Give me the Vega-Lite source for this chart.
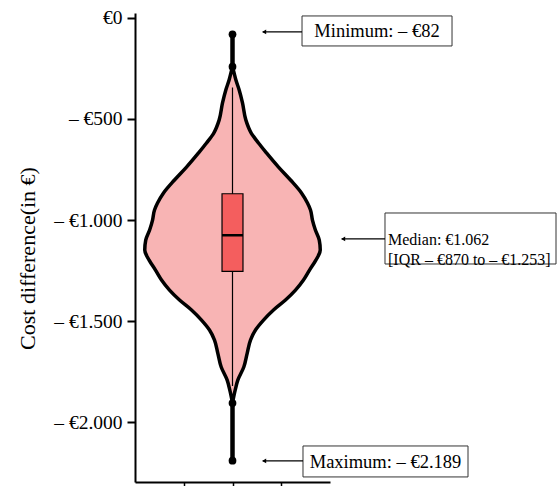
{
  "$schema": "https://vega.github.io/schema/vega-lite/v6.json",
  "autosize": {"type": "none"},
  "width": 195,
  "height": 469,
  "padding": {"left": 135, "top": 13, "right": 230, "bottom": 4},
  "config": {"view": {"stroke": null}, "font": "Liberation Serif", "axis": {"grid": false}},
  "datasets": {
    "violin": [
      {"v": -242, "lo": 0, "hi": 0},
      {"v": -275, "lo": -0.035, "hi": 0.035},
      {"v": -308, "lo": -0.07, "hi": 0.07},
      {"v": -357, "lo": -0.137, "hi": 0.137},
      {"v": -421, "lo": -0.205, "hi": 0.205},
      {"v": -505, "lo": -0.273, "hi": 0.273},
      {"v": -570, "lo": -0.384, "hi": 0.384},
      {"v": -619, "lo": -0.533, "hi": 0.533},
      {"v": -668, "lo": -0.697, "hi": 0.697},
      {"v": -738, "lo": -0.944, "hi": 0.944},
      {"v": -802, "lo": -1.19, "hi": 1.19},
      {"v": -866, "lo": -1.415, "hi": 1.415},
      {"v": -916, "lo": -1.538, "hi": 1.538},
      {"v": -950, "lo": -1.6, "hi": 1.6},
      {"v": -1000, "lo": -1.64, "hi": 1.64},
      {"v": -1049, "lo": -1.7, "hi": 1.7},
      {"v": -1099, "lo": -1.78, "hi": 1.78},
      {"v": -1148, "lo": -1.8, "hi": 1.8},
      {"v": -1198, "lo": -1.71, "hi": 1.71},
      {"v": -1247, "lo": -1.58, "hi": 1.58},
      {"v": -1296, "lo": -1.456, "hi": 1.456},
      {"v": -1346, "lo": -1.292, "hi": 1.292},
      {"v": -1395, "lo": -1.087, "hi": 1.087},
      {"v": -1444, "lo": -0.841, "hi": 0.841},
      {"v": -1494, "lo": -0.636, "hi": 0.636},
      {"v": -1543, "lo": -0.472, "hi": 0.472},
      {"v": -1593, "lo": -0.369, "hi": 0.369},
      {"v": -1657, "lo": -0.302, "hi": 0.302},
      {"v": -1726, "lo": -0.232, "hi": 0.232},
      {"v": -1791, "lo": -0.109, "hi": 0.109},
      {"v": -1840, "lo": -0.055, "hi": 0.055},
      {"v": -1904, "lo": 0, "hi": 0}
    ],
    "tails": [
      {"a": -82, "b": -242},
      {"a": -1904, "b": -2189}
    ],
    "dots": [
      {"v": -82},
      {"v": -242},
      {"v": -1904},
      {"v": -2189}
    ],
    "stats": [
      {"q1": -870, "q3": -1253, "med": -1075, "wtop": -345, "wbot": -1820}
    ]
  },
  "layer": [
    {
      "data": {"name": "violin"},
      "mark": {"type": "area", "orient": "horizontal", "interpolate": "monotone", "fill": "#F8B4B4", "stroke": "black", "strokeWidth": 3.5, "strokeJoin": "round"},
      "encoding": {
        "y": {
          "field": "v", "type": "quantitative",
          "scale": {"domain": [-2294, 23], "nice": false, "zero": false},
          "axis": {
            "title": "Cost difference(in €)",
            "values": [0, -500, -1000, -1500, -2000],
            "labelExpr": "datum.value == 0 ? '€0' : '– €' + replace(format(-datum.value, ','), ',', '.')",
            "labelFontSize": 19.5, "labelColor": "black", "labelPadding": 5, "labelFont": "Liberation Serif",
            "tickSize": 8, "tickWidth": 2, "tickColor": "black",
            "domainColor": "black", "domainWidth": 2,
            "titleFontSize": 22, "titleFontWeight": "normal", "titleColor": "black", "titleFont": "Liberation Serif",
            "titleX": -108, "titleY": 245, "titleAngle": -90, "titleAlign": "center", "titleBaseline": "middle",
            "grid": false
          }
        },
        "x": {
          "field": "lo", "type": "quantitative",
          "scale": {"domain": [-2, 2], "nice": false, "zero": false},
          "axis": {"title": "", "values": [-1, 0, 1], "labels": false, "tickSize": 6, "tickWidth": 1.5, "tickColor": "black", "domainColor": "black", "domainWidth": 2, "grid": false}
        },
        "x2": {"field": "hi"}
      }
    },
    {
      "data": {"name": "tails"},
      "mark": {"type": "rule", "strokeWidth": 4.5, "color": "black"},
      "encoding": {
        "x": {"datum": 0, "type": "quantitative"},
        "y": {"field": "a", "type": "quantitative"},
        "y2": {"field": "b"}
      }
    },
    {
      "data": {"name": "stats"},
      "mark": {"type": "rule", "strokeWidth": 1.2, "color": "black"},
      "encoding": {
        "x": {"datum": 0, "type": "quantitative"},
        "y": {"field": "wtop", "type": "quantitative"},
        "y2": {"field": "wbot"}
      }
    },
    {
      "data": {"name": "stats"},
      "mark": {"type": "rect", "fill": "#F45E5E", "stroke": "black", "strokeWidth": 1.2},
      "encoding": {
        "x": {"datum": -0.215, "type": "quantitative"},
        "x2": {"datum": 0.215},
        "y": {"field": "q1", "type": "quantitative"},
        "y2": {"field": "q3"}
      }
    },
    {
      "data": {"name": "stats"},
      "mark": {"type": "rule", "strokeWidth": 2.5, "color": "black"},
      "encoding": {
        "x": {"datum": -0.215, "type": "quantitative"},
        "x2": {"datum": 0.215},
        "y": {"field": "med", "type": "quantitative"}
      }
    },
    {
      "data": {"name": "dots"},
      "mark": {"type": "circle", "size": 60, "color": "black", "opacity": 1},
      "encoding": {
        "x": {"datum": 0, "type": "quantitative"},
        "y": {"field": "v", "type": "quantitative"}
      }
    },
    {
      "data": {"values": [{}]},
      "mark": {"type": "rect", "fill": "white", "stroke": "#333333", "strokeWidth": 1},
      "encoding": {
        "x": {"datum": 1.426, "type": "quantitative"},
        "x2": {"datum": 4.503},
        "y": {"datum": 8.4, "type": "quantitative"},
        "y2": {"datum": -139.8}
      }
    },
    {
      "data": {"values": [{}]},
      "mark": {"type": "rule", "strokeWidth": 1.2, "color": "black"},
      "encoding": {
        "x": {"datum": 0.62, "type": "quantitative"},
        "x2": {"datum": 1.426},
        "y": {"datum": -70.6, "type": "quantitative"}
      }
    },
    {
      "data": {"values": [{}]},
      "mark": {"type": "point", "shape": "triangle-left", "size": 22, "filled": true, "color": "black", "opacity": 1},
      "encoding": {
        "x": {"datum": 0.65, "type": "quantitative"},
        "y": {"datum": -70.6, "type": "quantitative"}
      }
    },
    {
      "data": {"values": [{}]},
      "mark": {"type": "text", "font": "Liberation Serif", "fontSize": 18.5, "align": "center", "baseline": "middle", "color": "black"},
      "encoding": {
        "x": {"datum": 2.964, "type": "quantitative"},
        "y": {"datum": -66, "type": "quantitative"},
        "text": {"value": "Minimum: – €82"}
      }
    },
    {
      "data": {"values": [{}]},
      "mark": {"type": "rect", "fill": "white", "stroke": "#333333", "strokeWidth": 1},
      "encoding": {
        "x": {"datum": 3.128, "type": "quantitative"},
        "x2": {"datum": 6.636},
        "y": {"datum": -965, "type": "quantitative"},
        "y2": {"datum": -1217}
      }
    },
    {
      "data": {"values": [{}]},
      "mark": {"type": "rule", "strokeWidth": 1.2, "color": "black"},
      "encoding": {
        "x": {"datum": 2.24, "type": "quantitative"},
        "x2": {"datum": 3.128},
        "y": {"datum": -1093, "type": "quantitative"}
      }
    },
    {
      "data": {"values": [{}]},
      "mark": {"type": "point", "shape": "triangle-left", "size": 22, "filled": true, "color": "black", "opacity": 1},
      "encoding": {
        "x": {"datum": 2.27, "type": "quantitative"},
        "y": {"datum": -1093, "type": "quantitative"}
      }
    },
    {
      "data": {"values": [{}]},
      "mark": {"type": "text", "font": "Liberation Serif", "fontSize": 16, "align": "left", "baseline": "middle", "lineHeight": 20, "color": "black"},
      "encoding": {
        "x": {"datum": 3.19, "type": "quantitative"},
        "y": {"datum": -1099, "type": "quantitative"},
        "text": {"value": ["Median: €1.062", "[IQR – €870 to – €1.253]"]}
      }
    },
    {
      "data": {"values": [{}]},
      "mark": {"type": "rect", "fill": "white", "stroke": "#333333", "strokeWidth": 1},
      "encoding": {
        "x": {"datum": 1.446, "type": "quantitative"},
        "x2": {"datum": 4.831},
        "y": {"datum": -2116, "type": "quantitative"},
        "y2": {"datum": -2269}
      }
    },
    {
      "data": {"values": [{}]},
      "mark": {"type": "rule", "strokeWidth": 1.2, "color": "black"},
      "encoding": {
        "x": {"datum": 0.62, "type": "quantitative"},
        "x2": {"datum": 1.446},
        "y": {"datum": -2190, "type": "quantitative"}
      }
    },
    {
      "data": {"values": [{}]},
      "mark": {"type": "point", "shape": "triangle-left", "size": 22, "filled": true, "color": "black", "opacity": 1},
      "encoding": {
        "x": {"datum": 0.65, "type": "quantitative"},
        "y": {"datum": -2190, "type": "quantitative"}
      }
    },
    {
      "data": {"values": [{}]},
      "mark": {"type": "text", "font": "Liberation Serif", "fontSize": 18.5, "align": "center", "baseline": "middle", "color": "black"},
      "encoding": {
        "x": {"datum": 3.138, "type": "quantitative"},
        "y": {"datum": -2193, "type": "quantitative"},
        "text": {"value": "Maximum: – €2.189"}
      }
    }
  ]
}
